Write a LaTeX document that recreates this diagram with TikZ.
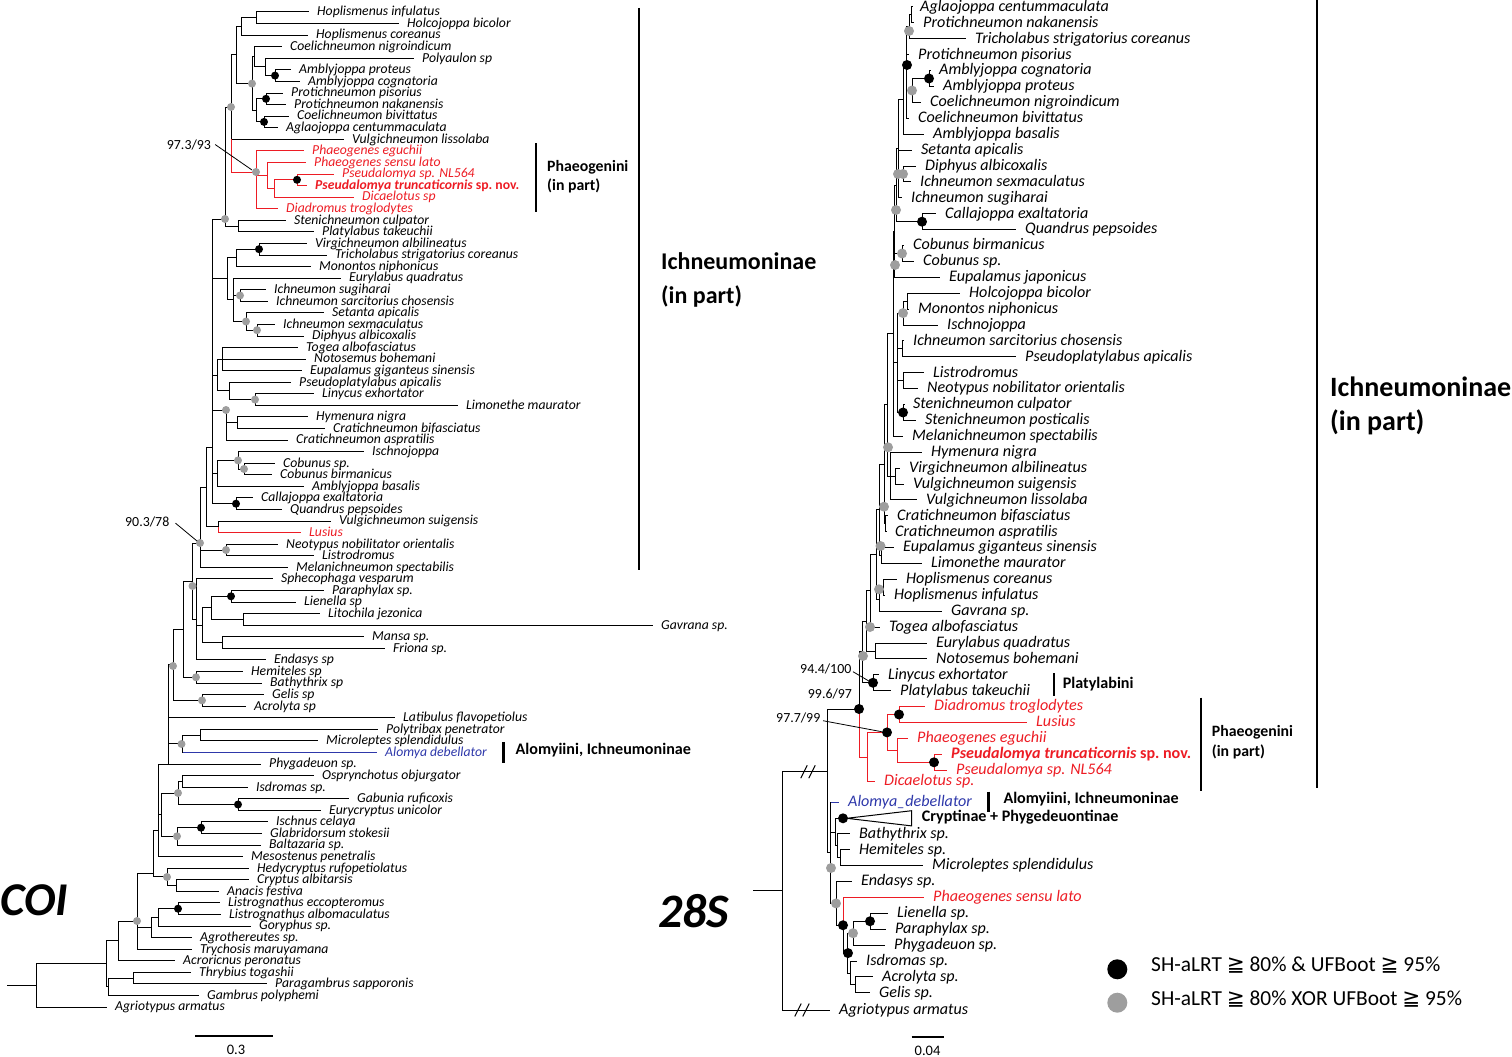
\documentclass[tikz,border=0pt]{standalone}
\usepackage{fontspec}
\setmainfont{Carlito}
\newfontfamily\djv{DejaVu Sans}
\definecolor{tred}{RGB}{237,28,36}
\definecolor{tblue}{RGB}{46,56,170}
\definecolor{dotg}{RGB}{158,158,158}
\newcounter{tc}
\newcommand\Lt[5][]{\stepcounter{tc}\draw[br,#1] (#2,#3) -- ({max(#2+1,#4-9)},#3);\node[lt,#1] (tip\arabic{tc}) at (#4,#3) {#5};}
\newcommand\Rt[5][]{\stepcounter{tc}\draw[br,#1] (#2,#3) -- ({max(#2+1,#4-10)},#3);\node[rt,#1] (tip\arabic{tc}) at (#4,#3) {#5};}
\newcommand\hb[4][]{\draw[br,#1] (#2,#4) -- (#3,#4);}
\newcommand\vb[4][]{\draw[br,#1] (#2,#3) -- (#2,#4);}
\newcommand\gd[3][4]{\fill[dotg] (#2,#3) circle (#1);}
\newcommand\bd[3][4]{\fill[black] (#2,#3) circle (#1);}
\begin{document}
\begin{tikzpicture}[x=1pt,y=-1pt,
  br/.style={line width=1pt,line cap=rect},
  lt/.style={anchor=mid west,inner sep=0pt,yshift=-1.5pt,font=\fontsize{13.7}{14}\selectfont\itshape},
  rt/.style={anchor=mid west,inner sep=0pt,yshift=-2pt,font=\fontsize{16.1}{17}\selectfont\itshape},
  bl/.style={anchor=west,inner sep=0pt,align=left,font=\fontsize{15.8}{19.5}\selectfont\bfseries},
  bls/.style={anchor=mid west,inner sep=0pt,font=\fontsize{16.1}{17}\selectfont\bfseries},
  ann/.style={anchor=mid west,inner sep=0pt,font=\fontsize{13.9}{14}\selectfont},
  brk/.style={line width=2.2pt},
  brk3/.style={line width=3pt}]
\useasboundingbox (0,0) rectangle (1512,1057);
% ================= LEFT TREE (COI) =================
\Lt{256}{12.0}{317}{Hoplismenus infulatus}
\Lt{256}{23.6}{407}{Holcojoppa bicolor}
\Lt{241}{35.1}{316}{Hoplismenus coreanus}
\Lt{254}{46.7}{290}{Coelichneumon nigroindicum}
\Lt{265}{58.3}{422}{Polyaulon sp}
\Lt{275}{69.9}{299}{Amblyjoppa proteus}
\Lt{275}{81.4}{308}{Amblyjoppa cognatoria}
\Lt{266}{93.0}{291}{Protichneumon pisorius}
\Lt{266}{104.6}{294}{Protichneumon nakanensis}
\Lt{264}{116.1}{297}{Coelichneumon bivittatus}
\Lt{264}{127.7}{286}{Aglaojoppa centummaculata}
\Lt{231}{139.3}{352}{Vulgichneumon lissolaba}
\Lt[tred]{256}{150.8}{312}{Phaeogenes eguchii}
\Lt[tred]{267}{162.4}{314}{Phaeogenes sensu lato}
\Lt[tred]{297}{174.0}{342}{Pseudalomya sp. NL564}
\Lt[tred]{297}{185.6}{315}{\bfseries Pseudalomya truncaticornis \upshape sp.\ nov.}
\Lt[tred]{274}{197.1}{362}{Dicaelotus sp}
\Lt[tred]{256}{208.7}{286}{Diadromus troglodytes}
\Lt{238}{220.3}{294}{Stenichneumon culpator}
\Lt{238}{231.8}{322}{Platylabus takeuchii}
\Lt{259}{243.4}{315}{Virgichneumon albilineatus}
\Lt{259}{255.0}{335}{Tricholabus strigatorius coreanus}
\Lt{236}{266.5}{319}{Monontos niphonicus}
\Lt{233}{278.1}{349}{Eurylabus quadratus}
\Lt{240}{289.7}{274}{Ichneumon sugiharai}
\Lt{240}{301.3}{276}{Ichneumon sarcitorius chosensis}
\Lt{246}{312.8}{332}{Setanta apicalis}
\Lt{257}{324.4}{283}{Ichneumon sexmaculatus}
\Lt{257}{336.0}{312}{Diphyus albicoxalis}
\Lt{222}{347.5}{306}{Togea albofasciatus}
\Lt{222}{359.1}{314}{Notosemus bohemani}
\Lt{222}{370.7}{310}{Eupalamus giganteus sinensis}
\Lt{229}{382.2}{299}{Pseudoplatylabus apicalis}
\Lt{255}{393.8}{322}{Linycus exhortator}
\Lt{255}{405.4}{466}{Limonethe maurator}
\Lt{237}{416.9}{316}{Hymenura nigra}
\Lt{237}{428.5}{333}{Cratichneumon bifasciatus}
\Lt{226}{440.1}{296}{Cratichneumon aspratilis}
\Lt{238}{451.7}{372}{Ischnojoppa}
\Lt{244}{463.2}{283}{Cobunus sp.}
\Lt{244}{474.8}{280}{Cobunus birmanicus}
\Lt{217}{486.4}{312}{Amblyjoppa basalis}
\Lt{236}{497.9}{261}{Callajoppa exaltatoria}
\Lt{236}{509.5}{290}{Quandrus pepsoides}
\Lt{218}{521.1}{339}{Vulgichneumon suigensis}
\Lt[tred]{218}{532.6}{309}{Lusius}
\Lt{226}{544.2}{286}{Neotypus nobilitator orientalis}
\Lt{226}{555.8}{322}{Listrodromus}
\Lt{200}{567.4}{296}{Melanichneumon spectabilis}
\Lt{196}{578.9}{281}{Sphecophaga vesparum}
\Lt{231}{590.5}{332}{Paraphylax sp.}
\Lt{231}{602.1}{304}{Lienella sp}
\Lt{243}{613.6}{328}{Litochila jezonica}
\Lt{243}{625.2}{661}{Gavrana sp.}
\Lt{222}{636.8}{372}{Mansa sp.}
\Lt{222}{648.3}{393}{Friona sp.}
\Lt{196}{659.9}{274}{Endasys sp}
\Lt{196}{671.5}{251}{Hemiteles sp}
\Lt{196}{683.0}{270}{Bathythrix sp}
\Lt{202}{694.6}{272}{Gelis sp}
\Lt{202}{706.2}{254}{Acrolyta sp}
\Lt{168}{717.8}{403}{Latibulus flavopetiolus}
\Lt{200}{729.3}{386}{Polytribax penetrator}
\Lt{200}{740.9}{326}{Microleptes splendidulus}
\Lt[tblue]{182}{752.5}{385}{Alomya debellator}
\Lt{168}{764.0}{269}{Phygadeuon sp.}
\Lt{182}{775.6}{322}{Osprynchotus objurgator}
\Lt{182}{787.2}{256}{Isdromas sp.}
\Lt{238}{798.7}{357}{Gabunia ruficoxis}
\Lt{238}{810.3}{329}{Eurycryptus unicolor}
\Lt{201}{821.9}{276}{Ischnus celaya}
\Lt{201}{833.4}{270}{Glabridorsum stokesii}
\Lt{177}{845.0}{269}{Baltazaria sp.}
\Lt{158}{856.6}{251}{Mesostenus penetralis}
\Lt{167}{868.2}{257}{Hedycryptus rufopetiolatus}
\Lt{176}{879.7}{257}{Cryptus albitarsis}
\Lt{176}{891.3}{227}{Anacis festiva}
\Lt{178}{902.9}{228}{Listrognathus eccopteromus}
\Lt{178}{914.4}{229}{Listrognathus albomaculatus}
\Lt{158}{926.0}{259}{Goryphus sp.}
\Lt{151}{937.6}{200}{Agrothereutes sp.}
\Lt{137}{949.1}{200}{Trychosis maruyamana}
\Lt{118}{960.7}{183}{Acroricnus peronatus}
\Lt{133}{972.3}{199}{Thrybius togashii}
\Lt{133}{983.8}{275}{Paragambrus sapporonis}
\Lt{108}{995.4}{207}{Gambrus polyphemi}
\Lt{36}{1007.0}{115}{Agriotypus armatus}
% internal branches
\vb{256}{12.0}{23.6}
\hb{241}{256}{17.8}\vb{241}{17.8}{35.1}
\vb{275}{69.9}{81.4}
\hb{265}{275}{75.6}\vb{265}{58.3}{75.6}
\hb{254}{265}{67.0}\vb{254}{46.7}{67.0}
\vb{266}{93.0}{104.6}
\vb{264}{116.1}{127.7}
\hb{256}{266}{98.8}\hb{256}{264}{121.9}\vb{256}{98.8}{121.9}
\hb{252}{254}{56.8}\hb{252}{256}{110.3}\vb{252}{56.8}{110.3}
\hb{236}{241}{26.5}\hb{236}{252}{83.6}\vb{236}{26.5}{83.6}
\vb[tred]{297}{174.0}{185.6}
\hb[tred]{274}{297}{179.8}\vb[tred]{274}{179.8}{197.1}
\hb[tred]{267}{274}{188.5}\vb[tred]{267}{162.4}{188.5}
\hb[tred]{256}{267}{175.4}\vb[tred]{256}{150.8}{208.7}
\hb[tred]{231}{256}{172}
\hb{231}{236}{55.0}\vb{231}{55.0}{139.3}\vb[tred]{231}{139.3}{172}
\vb{238}{220.3}{231.8}
\hb{225}{231}{107}\hb{225}{238}{226}\vb{225}{107}{226}
\vb{259}{243.4}{255.0}
\hb{236}{259}{249.2}\vb{236}{249.2}{266.5}
\vb{240}{289.7}{301.3}
\vb{257}{324.4}{336.0}
\hb{246}{257}{330.2}\vb{246}{312.8}{330.2}
\hb{233}{240}{295.5}\hb{233}{246}{321.5}\vb{233}{278.1}{321.5}
\hb{227}{236}{257.9}\hb{227}{233}{299.8}\vb{227}{257.9}{299.8}
\vb{222}{347.5}{370.7}
\vb{255}{393.8}{405.4}
\hb{229}{255}{399.6}\vb{229}{382.2}{399.6}
\hb{217}{222}{359.1}\hb{217}{229}{390.9}\vb{217}{359.1}{390.9}
\vb{237}{416.9}{428.5}
\hb{226}{237}{422.7}\vb{226}{410}{440.1}
\vb{244}{463.2}{474.8}
\hb{238}{244}{469}\vb{238}{451.7}{469}
\hb{217}{238}{460.4}\vb{217}{460.4}{486.4}
\vb{236}{497.9}{509.5}
\vb{218}{521.1}{526.9}\vb[tred]{218}{526.9}{532.6}
\hb{212}{225}{219}\hb{212}{227}{278.9}\hb{212}{217}{375}\hb{212}{226}{410}\hb{212}{217}{473.4}\hb{212}{236}{503.7}\vb{212}{219}{503.7}
\hb{206}{212}{447}\hb{206}{218}{526.9}\vb{206}{447}{526.9}
\vb{226}{544.2}{555.8}
\hb{200}{206}{487}\hb{200}{226}{550}\vb{200}{487}{567.4}
\vb{231}{590.5}{602.1}
\vb{243}{613.6}{625.2}
\hb{211}{231}{596.3}\hb{211}{243}{619.4}\vb{211}{596.3}{619.4}
\vb{222}{636.8}{648.3}
\hb{202}{211}{607.9}\hb{202}{222}{642.5}\vb{202}{607.9}{642.5}
\hb{196}{202}{625.2}\vb{196}{578.9}{659.9}
\hb{192.5}{200}{543}\hb{192.5}{196}{619.4}\vb{192.5}{543}{619.4}
\vb{196}{671.5}{683.0}
\hb{183}{192.5}{581}\hb{183}{196}{677.3}\vb{183}{581}{677.3}
\vb{202}{694.6}{706.2}
\hb{173}{183}{629}\hb{173}{202}{700.4}\vb{173}{629}{700.4}
\vb{200}{729.3}{740.9}
\hb{182}{200}{735.1}\vb{182}{735.1}{752.5}
\hb{168}{173}{664.7}\hb{168}{182}{743.8}\vb{168}{664.7}{764.0}
\vb{182}{775.6}{787.2}
\vb{238}{798.7}{810.3}
\hb{178}{182}{781.4}\hb{178}{238}{804.5}\vb{178}{781.4}{804.5}
\vb{201}{821.9}{833.4}
\hb{177}{201}{827.7}\vb{177}{827.7}{845.0}
\hb{161}{178}{793}\hb{161}{177}{836.3}\vb{161}{793}{836.3}
\hb{158}{168}{764}\hb{158}{161}{814.7}\vb{158}{764}{856.6}
\vb{176}{879.7}{891.3}
\hb{167}{176}{885.5}\vb{167}{868.2}{885.5}
\hb{153}{158}{830}\hb{153}{167}{876.9}\vb{153}{830}{876.9}
\vb{178}{902.9}{914.4}
\hb{158}{178}{908.7}\vb{158}{908.7}{926.0}
\hb{151}{158}{917.3}\vb{151}{917.3}{937.6}
\hb{137}{153}{873}\hb{137}{151}{927.4}\vb{137}{873}{949.1}
\hb{118}{137}{921}\vb{118}{921}{960.7}
\vb{133}{972.3}{983.8}
\hb{108}{133}{978}\vb{108}{978}{995.4}
\hb{106}{118}{940.9}\hb{106}{108}{986.7}\vb{106}{940.9}{986.7}
\hb{36}{106}{963.8}\vb{36}{963.8}{1007.0}
\hb{7}{36}{985.4}
% dots
\bd{275}{75.6}\bd{266}{98.8}\bd{264}{121.9}\gd{252}{83.6}\bd{297}{179.8}\gd{256}{172}
\gd{231}{107}\gd{225}{219}\bd{259}{249.2}\gd{240}{295.5}\gd{257}{330.2}\gd{246}{321.5}
\gd{255}{399.6}\gd{226}{410}\gd{244}{469}\gd{238}{460.4}\bd{236}{503.7}\gd{226}{550}
\gd{200}{543}\bd{231}{596.3}\gd{192.5}{586}\gd{196}{677.3}\gd{202}{700.4}\gd{173}{666}
\gd{181.5}{744}\gd{178}{793}\bd{238}{804.5}\bd{201}{827.7}\gd{177}{836.3}\gd{167}{877}
\bd{178}{908.7}\gd{137}{921}
% annotations
\node[ann] (a1) at (166.7,146.7) {97.3/93};
\draw[line width=0.8pt] (a1.east) ++(4,0) -- (252,170);
\node[ann] (a2) at (125,524.3) {90.3/78};
\draw[line width=0.8pt] (a2.east) ++(6,1) -- (197,541);
% brackets left
\draw[brk] (639,8) -- (639,570);
\node[anchor=west,inner sep=0pt,align=left,font=\fontsize{24}{34}\selectfont\bfseries] (ichL) at (661,280) {Ichneumoninae\\(in part)};
\draw[brk] (536,143) -- (536,212);
\node[bl] (phL) at (547,176.5) {Phaeogenini\\(in part)};
\draw[brk3] (503.3,742) -- (503.3,763);
\node[bls] (alL) at (515.5,752) {Alomyiini, Ichneumoninae};
% scale + title left
\draw[line width=1.8pt] (195,1036) -- (273,1036);
\node[inner sep=0pt,font=\fontsize{14.5}{15}\selectfont] (sL) at (236,1050) {0.3};
\node[anchor=mid west,inner sep=0pt,font=\fontsize{47}{50}\selectfont\bfseries\itshape] (coi) at (0,913) {COI};
% ================= RIGHT TREE (28S) =================
\Rt{911}{7.0}{920}{Aglaojoppa centummaculata}
\Rt{911}{22.9}{923}{Protichneumon nakanensis}
\Rt{909}{38.8}{975}{Tricholabus strigatorius coreanus}
\Rt{906}{54.7}{918}{Protichneumon pisorius}
\Rt{929}{70.6}{939}{Amblyjoppa cognatoria}
\Rt{929}{86.5}{943}{Amblyjoppa proteus}
\Rt{912}{102.4}{930}{Coelichneumon nigroindicum}
\Rt{906}{118.3}{918}{Coelichneumon bivittatus}
\Rt{903}{134.2}{933}{Amblyjoppa basalis}
\Rt{898}{150.1}{921}{Setanta apicalis}
\Rt{903}{166.0}{925}{Diphyus albicoxalis}
\Rt{903}{181.9}{920}{Ichneumon sexmaculatus}
\Rt{898}{197.8}{911}{Ichneumon sugiharai}
\Rt{922}{213.7}{945}{Callajoppa exaltatoria}
\Rt{922}{229.6}{1025}{Quandrus pepsoides}
\Rt{902}{245.5}{913}{Cobunus birmanicus}
\Rt{902}{261.4}{923}{Cobunus sp.}
\Rt{894}{277.3}{949}{Eupalamus japonicus}
\Rt{907}{293.2}{969}{Holcojoppa bicolor}
\Rt{907}{309.1}{918}{Monontos niphonicus}
\Rt{903}{325.0}{947}{Ischnojoppa}
\Rt{902}{340.9}{913}{Ichneumon sarcitorius chosensis}
\Rt{902}{356.8}{1025}{Pseudoplatylabus apicalis}
\Rt{903}{372.7}{933}{Listrodromus}
\Rt{903}{388.6}{927}{Neotypus nobilitator orientalis}
\Rt{903}{404.5}{913}{Stenichneumon culpator}
\Rt{903}{420.4}{925}{Stenichneumon posticalis}
\Rt{893}{436.3}{912}{Melanichneumon spectabilis}
\Rt{890}{452.2}{931}{Hymenura nigra}
\Rt{895}{468.1}{909}{Virgichneumon albilineatus}
\Rt{895}{484.0}{913}{Vulgichneumon suigensis}
\Rt{890}{499.9}{926}{Vulgichneumon lissolaba}
\Rt{885}{515.8}{897}{Cratichneumon bifasciatus}
\Rt{885}{531.7}{895}{Cratichneumon aspratilis}
\Rt{881}{547.6}{903}{Eupalamus giganteus sinensis}
\Rt{881}{563.5}{931}{Limonethe maurator}
\Rt{883}{579.4}{906}{Hoplismenus coreanus}
\Rt{883}{595.3}{894}{Hoplismenus infulatus}
\Rt{879}{611.2}{951}{Gavrana sp.}
\Rt{870}{627.1}{889}{Togea albofasciatus}
\Rt{875}{643.0}{936}{Eurylabus quadratus}
\Rt{875}{658.9}{936}{Notosemus bohemani}
\Rt{873}{674.8}{888}{Linycus exhortator}
\Rt{873}{690.7}{900}{Platylabus takeuchii}
\Rt[tred]{899}{706.6}{934}{Diadromus troglodytes}
\Rt[tred]{899}{722.5}{1036}{Lusius}
\Rt[tred]{897}{738.4}{917}{Phaeogenes eguchii}
\Rt[tred]{934}{754.3}{951}{\bfseries Pseudalomya truncaticornis \upshape sp.\ nov.}
\Rt[tred]{934}{770.2}{956}{Pseudalomya sp. NL564}
\Rt[tred]{867}{781}{884}{Dicaelotus sp.}
\Rt[tblue]{830}{802.0}{848}{Alomya\_debellator}
\Rt{837}{833.8}{859}{Bathythrix sp.}
\Rt{840}{849.7}{859}{Hemiteles sp.}
\Rt{840}{865.6}{932}{Microleptes splendidulus}
\Rt{836}{881.5}{861}{Endasys sp.}
\Rt[tred]{843}{897.4}{933}{Phaeogenes sensu lato}
\Rt{870}{913.3}{897}{Lienella sp.}
\Rt{870}{929.2}{895}{Paraphylax sp.}
\Rt{853}{945.1}{894}{Phygadeuon sp.}
\Rt{850}{961.0}{866}{Isdromas sp.}
\Rt{855}{976.9}{882}{Acrolyta sp.}
\Rt{855}{992.8}{879}{Gelis sp.}
\Rt{782}{1010}{839}{Agriotypus armatus}
% internal branches
\vb{911}{7.0}{22.9}\hb{909}{911}{15}
\vb{909}{15}{38.8}
\vb{929}{70.6}{86.5}
\hb{912}{929}{78.5}\vb{912}{78.5}{102.4}
\hb{906}{909}{26.9}\hb{906}{912}{90.5}\vb{906}{26.9}{118.3}
\hb{903}{906}{65}\vb{903}{65}{134.2}
\vb{903}{166.0}{181.9}
\hb{898}{903}{99.6}\hb{898}{903}{174}\vb{898}{99.6}{197.8}
\vb{922}{213.7}{229.6}
\hb{896}{898}{148.7}\hb{896}{922}{221.7}\vb{896}{148.7}{221.7}
\vb{902}{245.5}{261.4}
\hb{894}{896}{185.2}\hb{894}{902}{253.5}\vb{894}{185.2}{277.3}
\vb{907}{293.2}{309.1}
\hb{903}{907}{301.2}\vb{903}{301.2}{325.0}
\vb{902}{340.9}{356.8}
\vb{903}{372.7}{388.6}
\vb{903}{404.5}{420.4}
\hb{897}{903}{313.1}\hb{897}{902}{348.9}\hb{897}{903}{380.7}\hb{897}{903}{412.5}\vb{897}{313.1}{412.5}
\hb{893}{894}{231.3}\hb{893}{897}{362.8}\vb{893}{231.3}{436.3}
\vb{895}{468.1}{484.0}
\hb{890}{895}{476}\vb{890}{452.2}{499.9}
\hb{887}{893}{333.8}\hb{887}{890}{476}\vb{887}{333.8}{476}
\vb{885}{515.8}{531.7}
\hb{884}{887}{404.9}\hb{884}{885}{523.8}\vb{884}{404.9}{523.8}
\vb{881}{547.6}{563.5}
\hb{879}{884}{464.3}\hb{879}{881}{555.5}\vb{879}{464.3}{555.5}
\vb{883}{579.4}{595.3}
\hb{879}{883}{587.3}\vb{879}{587.3}{611.2}
\hb{876}{879}{509.9}\hb{876}{879}{599.3}\vb{876}{509.9}{599.3}
\hb{870}{876}{554.6}\vb{870}{554.6}{627.1}
\vb{875}{643.0}{658.9}
\hb{866}{870}{590.9}\hb{866}{875}{651}\vb{866}{590.9}{651}
\vb{873}{674.8}{690.7}
\hb{862}{866}{621}\hb{862}{873}{682.75}\vb{862}{621}{682.75}
\hb{859}{862}{651.9}\vb{859}{651.9}{709}\vb[tred]{859}{709}{757}
\vb[tred]{899}{706.6}{722.5}\vb[tred]{934}{754.3}{770.2}
\hb[tred]{897}{934}{762.3}\vb[tred]{897}{738.4}{762.3}
\hb[tred]{887}{899}{714.5}\hb[tred]{887}{897}{750.3}\vb[tred]{887}{714.5}{750.3}
\hb[tred]{867}{887}{732.4}\vb[tred]{867}{732.4}{781}\hb[tred]{859}{867}{757}
% collapsed clade
\draw[br,line join=miter] (846.7,818.3) -- (911.7,810.7) -- (911.7,825.9) -- cycle;
\node[bls] (cryp) at (921.7,819.3) {Cryptinae + Phygedeuontinae};
\vb{840}{849.7}{865.6}
\hb{837}{840}{857.6}\vb{837}{833.8}{857.6}
\hb{835}{843}{818.3}\hb{835}{837}{845.7}\vb{835}{818.3}{845.7}
\vb{870}{913.3}{929.2}
\hb{853}{870}{921.25}\vb{853}{921.25}{945.1}
\vb{855}{976.9}{992.8}
\hb{850}{855}{984.9}\vb{850}{961.0}{984.9}
\hb{847.5}{853}{933.2}\hb{847.5}{850}{973}\vb{847.5}{933.2}{973}
\hb{843}{847.5}{953.1}\vb[tred]{843}{897.4}{925.25}\vb{843}{925.25}{953.1}
\hb{836}{843}{925.25}\vb{836}{881.5}{925.25}
\hb{830}{835}{832}\hb{830}{836}{903.4}\vb{830}{802}{903.4}
\hb{827}{830}{852.7}\hb{827}{859}{709}\vb{827}{709}{852.7}
\hb{782}{827}{771.7}\vb{782}{771.7}{1010}\hb{753}{782}{890.8}
% break marks
\draw[br] (801,777.7) -- (807,765.7); \draw[br] (809,777.7) -- (815,765.7);
\draw[br] (795,1016) -- (801,1004); \draw[br] (803,1016) -- (809,1004);
% dots
\gd[5]{909}{31}\bd[5]{907}{65}\bd[5]{929}{78.5}\gd[5]{912}{90.5}\gd[5]{898}{174}\gd[5]{903}{174}
\gd[5]{896}{210}\bd[5]{922}{221.7}\gd[5]{902}{253.5}\gd[5]{895}{265}\gd[5]{903}{313.1}
\bd[5]{903}{412.5}\gd[5]{888}{447.3}\gd[5]{884}{506.7}\gd[5]{880.5}{546}\gd[5]{879}{589.3}
\gd[5]{870}{627}\gd[5]{863}{656}\bd[5]{873}{682.75}\bd[5]{859}{709}\bd[5]{887}{732.4}
\bd[5]{899}{714.5}\bd[5]{934}{762.3}\bd[5]{843}{818.3}\gd[5]{831}{868}\gd[5]{836}{903.4}
\bd[5]{843}{925.25}\bd[5]{870}{921.25}\gd[5]{853}{933.2}\bd[5]{848}{953.1}
% annotations right
\node[ann] (a3) at (800,670.7) {94.4/100};
\draw[line width=0.8pt] (853,671.7) -- (870,681.7);
\node[ann] (a4) at (807.7,695.7) {99.6/97};
\node[ann] (a5) at (776,720) {97.7/99};
\draw[line width=0.8pt] (823,720.7) -- (881.7,731.7);
% brackets right
\draw[brk] (1316.7,0) -- (1316.7,788.3);
\node[anchor=west,inner sep=0pt,align=left,font=\fontsize{28}{34}\selectfont\bfseries] (ichR) at (1330,406) {Ichneumoninae\\(in part)};
\draw[brk] (1054.3,673) -- (1054.3,696);
\node[bls] (plat) at (1062.7,685.7) {Platylabini};
\draw[brk] (1200.7,697.7) -- (1200.7,790.7);
\node[bl] (phR) at (1211.7,742) {Phaeogenini\\(in part)};
\draw[brk3] (988.3,791.7) -- (988.3,811.7);
\node[bls] (alR) at (1003.3,801) {Alomyiini, Ichneumoninae};
% scale + title right
\draw[line width=1.8pt] (911.7,1036.7) -- (944,1036.7);
\node[inner sep=0pt,font=\fontsize{14.5}{15}\selectfont] (sR) at (927.5,1051) {0.04};
\node[anchor=mid west,inner sep=0pt,font=\fontsize{48}{50}\selectfont\bfseries\itshape] (s28) at (658,925) {28S};
% legend
\fill[black] (1117.3,969.3) circle (10);
\fill[dotg] (1117.3,1002.7) circle (10);
\node[anchor=mid west,inner sep=0pt,font=\fontsize{21.4}{22}\selectfont] (lg1) at (1151,969.3) {SH-aLRT {\djv ≧} 80\% \& UFBoot {\djv ≧} 95\%};
\node[anchor=mid west,inner sep=0pt,font=\fontsize{21.4}{22}\selectfont] (lg2) at (1151,1002.7) {SH-aLRT {\djv ≧} 80\% XOR UFBoot {\djv ≧} 95\%};
\end{tikzpicture}
\end{document}
